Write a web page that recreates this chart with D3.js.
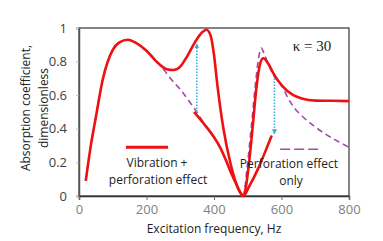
<!DOCTYPE html>
<html>
<head>
<meta charset="utf-8">
<script src="https://cdn.jsdelivr.net/npm/d3@7"></script>
<style>
  body { margin: 0; background: #fff; }
  svg { display: block; font-family: "Open Sans", sans-serif; }
</style>
</head>
<body>
<svg id="chart" width="383" height="241"></svg>
<script>
// vibration + perforation effect (main red curve)
const mainHz  = [20, 35, 50, 70, 100, 120, 145, 170, 200, 235, 260, 280, 300, 320, 345, 365, 378, 390, 400, 410, 428, 447, 465, 478, 486, 495, 505, 515, 526, 537, 546, 560, 576, 600, 635, 660, 700, 750, 800];
const mainVal = [0.09, 0.30, 0.47, 0.69, 0.87, 0.915, 0.93, 0.91, 0.865, 0.79, 0.755, 0.75, 0.77, 0.83, 0.92, 0.975, 0.99, 0.955, 0.84, 0.66, 0.40, 0.21, 0.08, 0.02, 0.0, 0.06, 0.22, 0.42, 0.65, 0.79, 0.82, 0.79, 0.73, 0.66, 0.60, 0.58, 0.568, 0.567, 0.565];

// perforation effect only (purple dashed)
const perfHz  = [20, 35, 50, 70, 100, 120, 145, 170, 200, 235, 252, 275, 300, 326, 344, 360, 378, 400, 418, 435, 447, 465, 478, 487, 497, 510, 522, 532, 540, 548, 560, 576, 600, 620, 640, 664, 694, 729, 763, 800];
const perfVal = [0.09, 0.30, 0.47, 0.69, 0.87, 0.915, 0.93, 0.91, 0.865, 0.79, 0.75, 0.69, 0.635, 0.565, 0.515, 0.465, 0.41, 0.35, 0.29, 0.215, 0.155, 0.075, 0.02, 0.0, 0.15, 0.40, 0.65, 0.82, 0.88, 0.85, 0.79, 0.72, 0.66, 0.58, 0.52, 0.47, 0.42, 0.37, 0.33, 0.29];

// shifted red segment around the dip
const dipHz  = [341, 360, 378, 400, 418, 435, 447, 465, 478, 487, 505, 530, 555, 571];
const dipVal = [0.50, 0.455, 0.41, 0.35, 0.29, 0.215, 0.155, 0.075, 0.02, 0.0, 0.06, 0.16, 0.28, 0.36];

// arrows: [Hz, from, to]
const arrows = [[349, 0.50, 0.905], [579, 0.70, 0.37]];

const xTicks = [0, 200, 400, 600, 800];
const yTicks = [0, 0.2, 0.4, 0.6, 0.8, 1];

const svg = d3.select("#chart");
const margin = { top: 28, right: 34, bottom: 45, left: 79 };
const W = 383, H = 241;
const x = d3.scaleLinear().domain([0, 800]).range([margin.left, W - margin.right]);
const y = d3.scaleLinear().domain([0, 1]).range([H - margin.bottom, margin.top]);

const red = "#ee1111", purple = "#a24aa8", blue = "#33aee0";

// frame
svg.append("rect")
  .attr("x", x(0)).attr("y", y(1))
  .attr("width", x(800) - x(0)).attr("height", y(0) - y(1))
  .attr("fill", "none").attr("stroke", "#333").attr("stroke-width", 1.2);

// axes
const yAxis = svg.append("g")
  .attr("transform", `translate(${x(0)},0)`)
  .call(d3.axisLeft(y).tickValues(yTicks).tickSize(3).tickPadding(9).tickFormat(d => String(+d.toFixed(1))));
yAxis.select(".domain").attr("stroke", "#555").attr("stroke-width", 1.5);
yAxis.selectAll(".tick line").attr("stroke", "#bbb");
yAxis.selectAll("text").attr("fill", "#404040").style("font-size", "13px").style("font-family", "Open Sans");

const xAxis = svg.append("g")
  .attr("transform", `translate(0,${y(0)})`)
  .call(d3.axisBottom(x).tickValues(xTicks).tickSize(4).tickPadding(5));
xAxis.select(".domain").attr("stroke", "#333").attr("stroke-width", 1.5);
xAxis.selectAll(".tick line").attr("stroke", "#666");
xAxis.selectAll("text").attr("fill", "#808080").style("font-size", "13px").style("font-family", "Open Sans");

// axis titles
svg.append("text")
  .attr("x", 214).attr("y", 233)
  .attr("text-anchor", "middle").attr("fill", "#222")
  .style("font-size", "12px")
  .text("Excitation frequency, Hz");

const yTitle = svg.append("text")
  .attr("transform", "translate(30,108) rotate(-90)")
  .attr("text-anchor", "middle").attr("fill", "#222")
  .style("font-size", "12px");
yTitle.append("tspan").attr("x", 0).attr("y", 0).text("Absorption coefficient,");
yTitle.append("tspan").attr("x", 0).attr("y", 18).text("dimensionless");

const line = d3.line()
  .x(d => x(d[0]))
  .y(d => y(d[1]))
  .curve(d3.curveMonotoneX);

const zip = (a, b) => a.map((v, i) => [v, b[i]]);

svg.append("path")
  .datum(zip(perfHz, perfVal))
  .attr("d", line)
  .attr("fill", "none").attr("stroke", purple)
  .attr("stroke-width", 1.6).attr("stroke-dasharray", "6,4");

svg.append("path")
  .datum(zip(mainHz, mainVal))
  .attr("d", line)
  .attr("fill", "none").attr("stroke", red)
  .attr("stroke-width", 2.6);

svg.append("path")
  .datum(zip(dipHz, dipVal))
  .attr("d", line)
  .attr("fill", "none").attr("stroke", red)
  .attr("stroke-width", 2.6);

// arrow heads
svg.append("defs").append("marker")
  .attr("id", "head")
  .attr("viewBox", "0 0 10 10")
  .attr("refX", 9).attr("refY", 5)
  .attr("markerWidth", 5).attr("markerHeight", 6)
  .attr("markerUnits", "userSpaceOnUse")
  .attr("orient", "auto")
  .append("path").attr("d", "M0,0L10,5L0,10Z").attr("fill", blue);

svg.selectAll(".arrow")
  .data(arrows)
  .enter().append("line")
  .attr("class", "arrow")
  .attr("x1", d => x(d[0])).attr("x2", d => x(d[0]))
  .attr("y1", d => y(d[1])).attr("y2", d => y(d[2]))
  .attr("stroke", blue).attr("stroke-width", 1.5)
  .attr("stroke-dasharray", "1.5,1.5")
  .attr("marker-end", "url(#head)");

// legend
svg.append("line")
  .attr("x1", x(139)).attr("x2", x(264))
  .attr("y1", y(0.29)).attr("y2", y(0.29))
  .attr("stroke", red).attr("stroke-width", 3);
svg.append("line")
  .attr("x1", x(596)).attr("x2", x(712))
  .attr("y1", y(0.278)).attr("y2", y(0.278))
  .attr("stroke", purple).attr("stroke-width", 1.6).attr("stroke-dasharray", "10,4");

const legText = [
  { x: 157, y: 167, t: "Vibration +" },
  { x: 158, y: 184, t: "perforation effect" },
  { x: 289, y: 168, t: "Perforation effect" },
  { x: 291, y: 185, t: "only" }
];
svg.selectAll(".leg")
  .data(legText)
  .enter().append("text")
  .attr("class", "leg")
  .attr("x", d => d.x).attr("y", d => d.y)
  .attr("text-anchor", "middle").attr("fill", "#222")
  .style("font-size", "12px")
  .text(d => d.t);

svg.append("text")
  .attr("x", 312).attr("y", 51)
  .attr("text-anchor", "middle").attr("fill", "#222")
  .style("font-family", "'Liberation Serif', serif")
  .style("font-size", "15px")
  .text("κ = 30");
</script>
</body>
</html>
